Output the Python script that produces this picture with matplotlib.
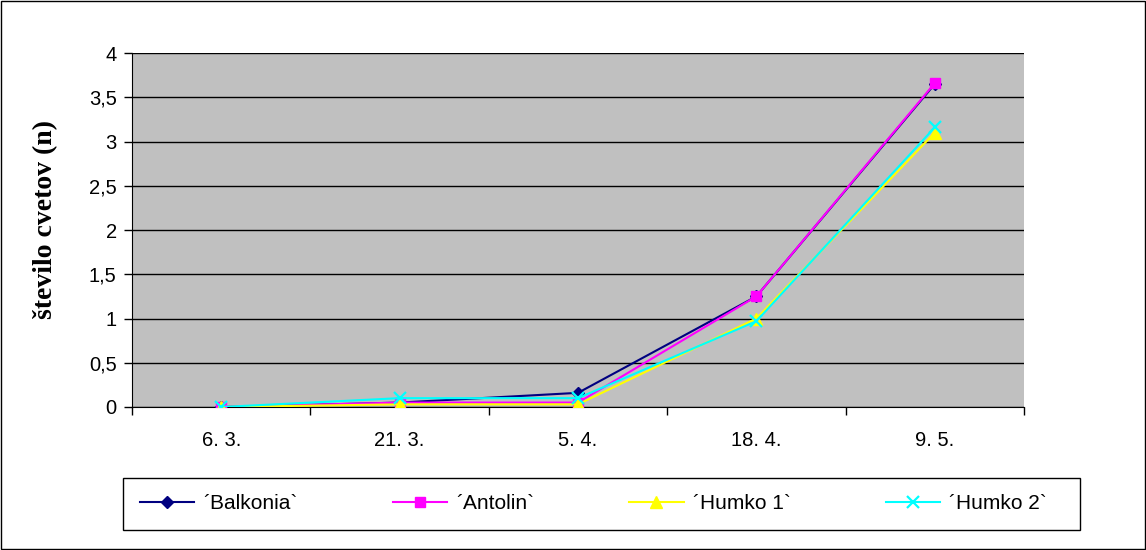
import matplotlib.pyplot as plt
import numpy as np
from matplotlib.patches import Rectangle

datumi = ["6. 3.", "21. 3.", "5. 4.", "18. 4.", "9. 5."]
balkonia = [0, 0.05, 0.16, 1.25, 3.65]
antolin = [0, 0.05, 0.05, 1.25, 3.66]
humko1 = [0, 0.03, 0.03, 1.0, 3.1]
humko2 = [0, 0.1, 0.1, 0.97, 3.16]

plt.rcParams['font.family'] = ['Liberation Sans', 'DejaVu Sans']

fig = plt.figure(figsize=(11.46, 5.5), dpi=100)
ax = fig.add_axes([132 / 1146, 0.26, 892 / 1146, 0.6436])
ax.set_facecolor('#C0C0C0')

x = np.arange(len(datumi))
ax.plot(x, balkonia, color='#000080', marker='D', markersize=6, lw=1.5, label="´Balkonia`", zorder=3)
ax.plot(x, antolin, color='#FF00FF', marker='s', markersize=7, lw=1.5, label="´Antolin`", zorder=3)
ax.plot(x, humko1, color='#FFFF00', marker='^', markersize=8, lw=1.5, label="´Humko 1`", zorder=3)
ax.plot(x, humko2, color='#00FFFF', marker='x', markersize=9, mew=1.6, lw=1.5, label="´Humko 2`", zorder=3)

ax.set_xlim(-0.5, len(datumi) - 0.5)
ax.set_ylim(0, 4)
ax.set_yticks(np.arange(0, 4.01, 0.5))
ax.set_yticklabels(["0", "0,5", "1", "1,5", "2", "2,5", "3", "3,5", "4"], fontsize=14.5)
ax.set_xticks(x)
ax.set_xticklabels(datumi, fontsize=14.5)
ax.set_xticks(np.arange(-0.5, len(datumi), 1), minor=True)
ax.tick_params(axis='x', which='major', length=0, pad=17)
ax.tick_params(axis='x', which='minor', length=6, width=1, direction='out')
ax.tick_params(axis='y', length=6, width=1, direction='out', pad=5)
ax.grid(axis='y', color='black', lw=1)
ax.set_axisbelow(True)
for s in ['top', 'right']:
    ax.spines[s].set_visible(False)
ax.spines['left'].set_color('black')
ax.spines['bottom'].set_color('black')

ax.set_ylabel("število cvetov (n)", fontsize=20, fontweight='bold',
              family=['Liberation Serif', 'DejaVu Serif'])
ax.yaxis.set_label_coords(-0.083, 0.53)

# legenda brez okvirja, okvir narisan posebej
fig.legend(loc='center left', bbox_to_anchor=(0.1222, 0.0364, 0.7914, 0.0945),
           mode='expand', ncol=4, fontsize=15, frameon=False,
           handlelength=2.6, handletextpad=0.45, borderaxespad=0, borderpad=0)
fig.patches.append(Rectangle((123 / 1146, 0.0364), 0.835, 0.0945, transform=fig.transFigure,
                             fill=False, edgecolor='black', lw=1))

fig.patches.append(Rectangle((0.001, 0.002), 0.998, 0.996, transform=fig.transFigure,
                             fill=False, edgecolor='black', lw=1))

fig.savefig("out.png", dpi=100)
